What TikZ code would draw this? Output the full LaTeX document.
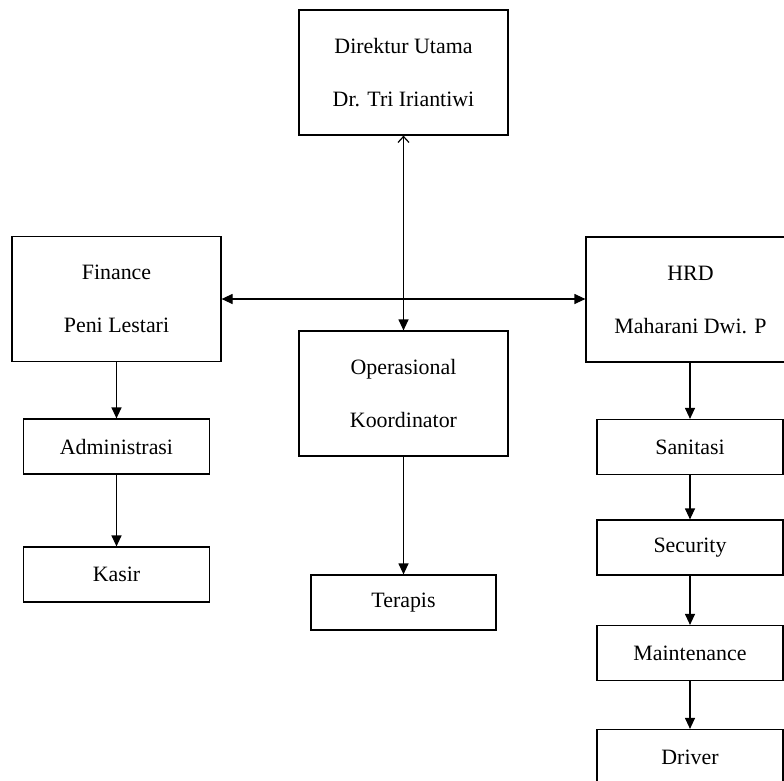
\documentclass[tikz,border=0pt]{standalone}
\usepackage{fontspec}
\setmainfont{Liberation Serif}
\usetikzlibrary{arrows.meta}
\begin{document}
\begin{tikzpicture}[x=1pt,y=-1pt,
  box/.style={draw=black, line width=1.2pt, rectangle, inner sep=0pt, align=center,
              font=\fontsize{21.9}{53}\selectfont},
  bigbox/.style={box, minimum width=209pt, minimum height=125pt},
  smallbox/.style={box, minimum width=186pt, minimum height=55pt},
  conn/.style={line width=1.2pt, -{Triangle[length=11pt,width=10pt]}},
]
\useasboundingbox (0,0) rectangle (784,780);
\clip (0,0) rectangle (784,780);
\fill[white] (0,0) rectangle (784,780);

\node[bigbox] (dir) at (403.5,72.5) {Direktur Utama\\Dr. Tri Iriantiwi};
\node[bigbox] (fin) at (116.5,299) {Finance\\Peni Lestari};
\node[bigbox] (hrd) at (690.5,299.5) {HRD\\Maharani Dwi. P};
\node[bigbox] (op) at (403.5,393.5) {Operasional\\Koordinator};

\node[smallbox] (adm) at (116.5,446.5) {Administrasi};
\node[smallbox] (kas) at (116.5,574.5) {Kasir};
\node[smallbox, minimum width=185pt] (ter) at (403.5,602.5) {Terapis};

\node[smallbox] (san) at (690,447) {Sanitasi};
\node[smallbox] (sec) at (690,547.5) {Security};
\node[smallbox] (mai) at (690,653) {Maintenance};
\node[smallbox] (drv) at (690,757) {Driver};

% main connectors
\draw[line width=1.2pt, {Straight Barb[length=6pt,width=11pt]}-{Triangle[length=11pt,width=10pt]}]
  (dir.south) -- (op.north);
\draw[line width=1.2pt, {Triangle[length=11pt,width=10pt]}-{Triangle[length=11pt,width=10pt]}]
  (fin.east) -- (fin.east -| hrd.west);

% chains
\draw[conn] (fin.south) -- (adm.north);
\draw[conn] (adm.south) -- (kas.north);
\draw[conn] (op.south) -- (ter.north);
\draw[conn] (hrd.south -| san.north) -- (san.north);
\draw[conn] (san.south) -- (sec.north);
\draw[conn] (sec.south) -- (mai.north);
\draw[conn] (mai.south) -- (drv.north);
\end{tikzpicture}
\end{document}
